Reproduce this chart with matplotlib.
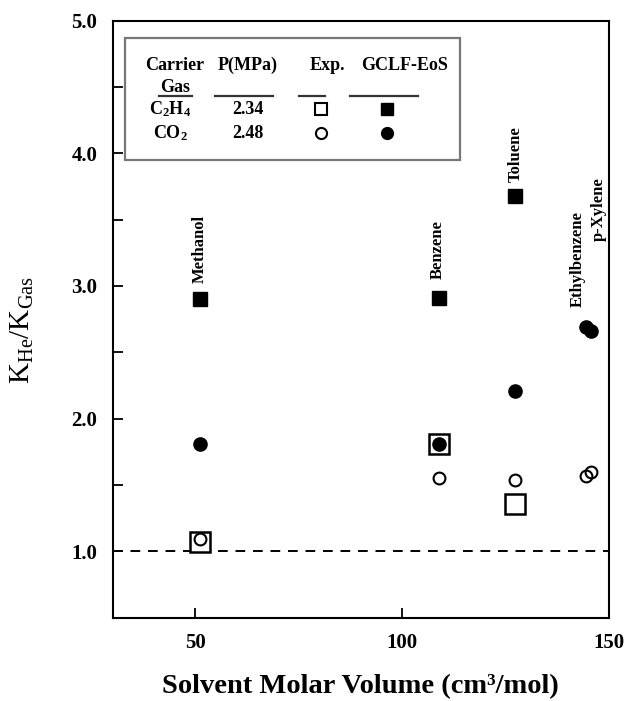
import matplotlib
matplotlib.use('Agg')
import matplotlib.pyplot as plt
from matplotlib.patches import Rectangle
from matplotlib.lines import Line2D

plt.rcParams['font.family'] = ['Liberation Serif', 'DejaVu Serif']
plt.rcParams['mathtext.fontset'] = 'custom'
plt.rcParams['mathtext.rm'] = 'Liberation Serif'
plt.rcParams['mathtext.bf'] = 'Liberation Serif:bold'
plt.rcParams['mathtext.it'] = 'Liberation Serif:italic'

# solvent molar volumes (cm3/mol)
solvents = ['Methanol', 'Benzene', 'Toluene', 'Ethylbenzene', 'p-Xylene']
vol_c2h4 = [51.0, 109.0, 127.3]
vol_co2 = [51.0, 109.0, 127.3, 144.4, 145.6]

# K_He / K_Gas, C2H4 carrier gas
exp_c2h4 = [1.07, 1.81, 1.36]
gclf_c2h4 = [2.90, 2.91, 3.68]

# K_He / K_Gas, CO2 carrier gas
exp_co2 = [1.09, 1.555, 1.54, 1.57, 1.60]
gclf_co2 = [1.81, 1.81, 2.21, 2.69, 2.66]

# label anchor (x, bottom y) for the solvent names
label_x = [51.0, 108.6, 127.4, 142.4, 147.5]
label_y = [3.02, 3.05, 3.78, 2.84, 3.34]

W, H = 627, 701
fig = plt.figure(figsize=(W / 100, H / 100), dpi=100)
ax = fig.add_axes([112.7 / W, 1 - 617.7 / H, (609 - 112.7) / W, (617.7 - 20.5) / H])


def px(x, y):
    # pixel position in the picture -> figure fraction
    return x / W, 1 - y / H


ax.axhline(1.0, color='black', lw=1.4, ls=(0, (5, 4)), zorder=1)

ax.plot(vol_c2h4, exp_c2h4, ls='none', marker='s', ms=14, mfc='white', mec='black', mew=1.8, zorder=2)
ax.plot(vol_co2, exp_co2, ls='none', marker='o', ms=8.5, mfc='none', mec='black', mew=1.5, zorder=3)
ax.plot(vol_c2h4, gclf_c2h4, ls='none', marker='s', ms=9.5, mfc='black', mec='black', zorder=3)
ax.plot(vol_co2, gclf_co2, ls='none', marker='o', ms=9.5, mfc='black', mec='black', zorder=4)

for name, x, y in zip(solvents, label_x, label_y):
    ax.text(x, y, name, rotation=90, ha='center', va='bottom', fontsize=12, fontweight='bold')

ax.set_xlim(30, 150)
ax.set_ylim(0.5, 5.0)
ax.set_xticks([50, 100, 150])
ax.set_xticklabels(['50', '100', '150'])
ax.set_yticks([1, 2, 3, 4, 5])
ax.set_yticklabels(['1.0', '2.0', '3.0', '4.0', '5.0'])
ax.set_yticks([1.5, 2.5, 3.5, 4.5], minor=True)
ax.tick_params(axis='both', which='both', direction='in', length=7, width=1.3,
               labelsize=15, top=False, right=False)
ax.tick_params(axis='x', pad=11)
ax.tick_params(axis='y', pad=11)
for lab in ax.get_xticklabels() + ax.get_yticklabels():
    lab.set_fontweight('bold')
for sp in ax.spines.values():
    sp.set_linewidth(1.5)

ax.set_xlabel('Solvent Molar Volume (cm³/mol)', fontsize=20.5, fontweight='bold', labelpad=15)
ax.set_ylabel(r'$\mathrm{K_{He}/K_{Gas}}$', fontsize=21)
ax.yaxis.set_label_coords(-0.155, 0.482)

# legend table
x0, y0 = px(125, 160)
x1, y1 = px(460, 38)
fig.patches.append(Rectangle((x0, y0), x1 - x0, y1 - y0, transform=fig.transFigure,
                             fill=False, ec='#777777', lw=1.6, zorder=5))

heads = ['Carrier', 'P(MPa)', 'Exp.', 'GCLF-EoS']
head_x = [175, 248, 327, 405]
for t, x in zip(heads, head_x):
    fig.text(*px(x, 65), t, ha='center', va='center', fontsize=13, fontweight='bold')
fig.text(*px(175, 87), 'Gas', ha='center', va='center', fontsize=13, fontweight='bold')

rules = [(159, 192), (215, 273), (299, 325), (350, 418)]
for a, b in rules:
    xa, yr = px(a, 96)
    xb, _ = px(b, 96)
    fig.add_artist(Line2D([xa, xb], [yr, yr], color='#333333', lw=1.6))

gases = [r'$\mathbf{C_2H_4}$', r'$\mathbf{CO_2}$']
pressures = ['2.34', '2.48']
row_y = [109, 133]
exp_mk = ['s', 'o']
gclf_mk = ['s', 'o']
for g, p, ry, em, gm in zip(gases, pressures, row_y, exp_mk, gclf_mk):
    fig.text(*px(170, ry), g, ha='center', va='center', fontsize=13)
    fig.text(*px(248, ry), p, ha='center', va='center', fontsize=13, fontweight='bold')
    xe, ye = px(321, ry)
    fig.add_artist(Line2D([xe], [ye], ls='none', marker=em, ms=8, mfc='white', mec='black', mew=1.5))
    xg, yg = px(387, ry)
    fig.add_artist(Line2D([xg], [yg], ls='none', marker=gm, ms=8.5, mfc='black', mec='black'))

fig.savefig('out.png', dpi=100)
